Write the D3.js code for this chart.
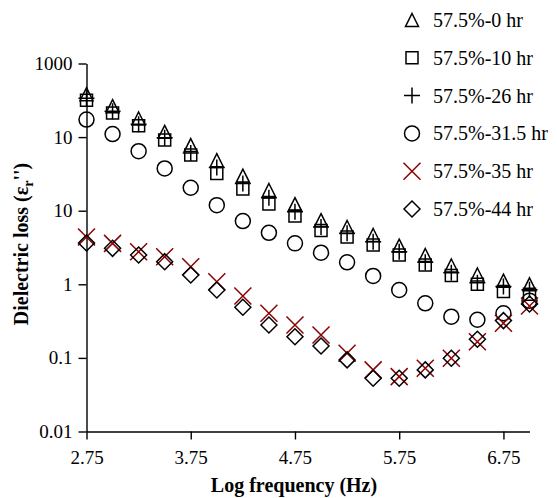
<!DOCTYPE html>
<html>
<head>
<meta charset="utf-8">
<script src="https://cdn.jsdelivr.net/npm/d3@7"></script>
<style>
  body { margin: 0; background: #fff; }
  svg { display: block; }
  svg text { font-family: "Liberation Serif", "Times New Roman", Times, serif; }
</style>
</head>
<body>
<svg width="557" height="498"></svg>
<script>
// log frequency (Hz) of each measurement
const logFreq = [2.75, 3.0, 3.25, 3.5, 3.75, 4.0, 4.25, 4.5, 4.75, 5.0, 5.25, 5.5, 5.75, 6.0, 6.25, 6.5, 6.75, 7.0];

// dielectric loss per curing time
const hr0    = [383, 263, 179, 118, 78, 48.6, 30, 19.1, 12.3, 7.46, 6.0, 4.67, 3.36, 2.5, 1.8, 1.36, 1.12, 1.0];
const hr10   = [317, 213, 143, 91, 57, 31.9, 19.7, 12.3, 8.45, 5.37, 4.39, 3.42, 2.5, 1.83, 1.32, 1.0, 0.80, 0.73];
const hr26   = [338, 225, 150, 98, 61, 38.7, 23.5, 15, 9.67, 6.0, 4.92, 3.79, 2.77, 1.99, 1.44, 1.05, 0.93, 0.84];
const hr31_5 = [173, 110, 64.4, 37.5, 20.5, 11.9, 7.23, 5.01, 3.6, 2.69, 1.99, 1.30, 0.837, 0.552, 0.363, 0.33, 0.404, 0.6];
const hr35   = [4.39, 3.6, 2.77, 2.37, 1.73, 1.08, 0.694, 0.404, 0.28, 0.205, 0.116, 0.0687, 0.0557, 0.0724, 0.099, 0.166, 0.296, 0.507];
const hr44   = [3.64, 3.08, 2.5, 2.03, 1.34, 0.837, 0.488, 0.28, 0.194, 0.145, 0.094, 0.053, 0.053, 0.0687, 0.099, 0.179, 0.321, 0.54];

const seriesNames = ["57.5%-0 hr", "57.5%-10 hr", "57.5%-26 hr", "57.5%-31.5 hr", "57.5%-35 hr", "57.5%-44 hr"];
const xTicks = [2.75, 3.75, 4.75, 5.75, 6.75];
const yTicks = [0.01, 0.1, 1, 10, 100, 1000];
const yTickLabels = ["0.01", "0.1", "1", "10", "10", "1000"];

const series = [
  { name: seriesNames[0], values: hr0,    shape: "triangle", color: "#000" },
  { name: seriesNames[1], values: hr10,   shape: "square",   color: "#000" },
  { name: seriesNames[2], values: hr26,   shape: "plus",     color: "#000" },
  { name: seriesNames[3], values: hr31_5, shape: "circle",   color: "#000" },
  { name: seriesNames[4], values: hr35,   shape: "cross",    color: "#8b0000" },
  { name: seriesNames[5], values: hr44,   shape: "diamond",  color: "#000" }
];

const shapes = {
  triangle: "M0,-6.5L6.5,6.5L-6.5,6.5Z",
  square: "M-6,-6H6V6H-6Z",
  plus: "M-8,0H8M0,-8V8",
  circle: "M7.5,0A7.5,7.5 0 1,1 -7.5,0A7.5,7.5 0 1,1 7.5,0Z",
  cross: "M-8.5,-8.5L8.5,8.5M8.5,-8.5L-8.5,8.5",
  diamond: "M0,-8L8,0L0,8L-8,0Z"
};

const serif = '"Liberation Serif", "Times New Roman", Times, serif';
const svg = d3.select("svg").attr("font-family", serif);

const x = d3.scaleLinear().domain([2.75, 7.0]).range([86.5, 529.5]);
const y = d3.scaleLog().domain([0.01, 1000]).range([431.5, 63.5]);

// axes
svg.append("g")
    .attr("transform", `translate(0,${y(0.01)})`)
    .call(d3.axisBottom(x).tickValues(xTicks).tickFormat(d3.format(".2f"))
      .tickSize(8).tickSizeOuter(0).tickPadding(11))
    .attr("font-family", serif)
    .attr("font-size", 19);

svg.append("g")
    .attr("transform", `translate(${x(2.75)},0)`)
    .call(d3.axisLeft(y).tickValues(yTicks).tickFormat((d, i) => yTickLabels[i])
      .tickSize(8).tickSizeOuter(0).tickPadding(6))
    .attr("font-family", serif)
    .attr("font-size", 19);

svg.selectAll(".domain").attr("stroke", "#000").attr("stroke-width", 1.4);
svg.selectAll(".tick line").attr("stroke", "#000").attr("stroke-width", 1.4);
svg.selectAll(".tick text").attr("fill", "#000");

// axis titles
svg.append("text")
    .attr("x", 294)
    .attr("y", 492)
    .attr("text-anchor", "middle")
    .attr("font-size", 20)
    .attr("font-weight", "bold")
    .text("Log frequency (Hz)");

const yTitle = svg.append("text")
    .attr("transform", "translate(28,244) rotate(-90)")
    .attr("text-anchor", "middle")
    .attr("font-size", 20)
    .attr("font-weight", "bold");
yTitle.append("tspan").text("Dielectric loss (\u03b5");
yTitle.append("tspan").attr("dy", 5).attr("font-size", 14).text("r");
yTitle.append("tspan").attr("dy", -5).text("'')");

// markers
series.forEach(s => {
  svg.append("g")
    .selectAll("path")
    .data(s.values.map((v, i) => [logFreq[i], v]))
    .join("path")
      .attr("transform", d => `translate(${x(d[0])},${y(d[1])})`)
      .attr("d", shapes[s.shape])
      .attr("fill", "none")
      .attr("stroke", s.color)
      .attr("stroke-width", 1.5);
});

// legend
const legend = svg.append("g")
  .selectAll("g")
  .data(series)
  .join("g")
    .attr("transform", (d, i) => `translate(412,${20 + i * 37.8})`);

legend.append("path")
    .attr("d", d => shapes[d.shape])
    .attr("fill", "none")
    .attr("stroke", d => d.color)
    .attr("stroke-width", 1.5);

legend.append("text")
    .attr("x", 21)
    .attr("y", 7)
    .attr("font-size", 20)
    .attr("fill", "#000")
    .text(d => d.name);
</script>
</body>
</html>
